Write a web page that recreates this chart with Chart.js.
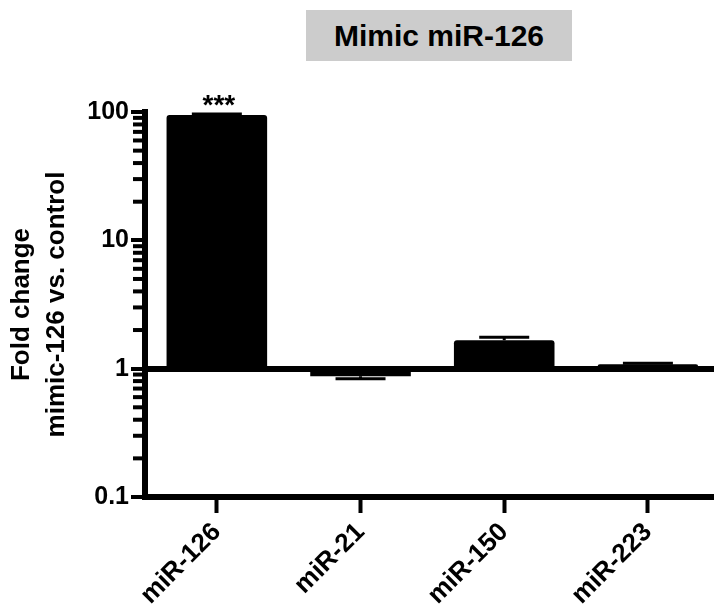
<!DOCTYPE html>
<html>
<head>
<meta charset="utf-8">
<script src="https://cdn.jsdelivr.net/npm/chart.js@4"></script>
<style>
  body { margin: 0; background: #fff; }
  #wrap { position: relative; width: 714px; height: 614px; }
  #title {
    position: absolute; left: 306px; top: 10px; width: 266px; height: 51px;
    background: #cccccc; color: #000;
    font: bold 30px "Liberation Sans", Arial, sans-serif;
    display: flex; align-items: center; justify-content: center;
  }
</style>
</head>
<body>
<div id="wrap">
  <div id="title">Mimic miR-126</div>
  <canvas id="chart" width="714" height="614"></canvas>
</div>
<script>
// data
const categories = ["miR-126", "miR-21", "miR-150", "miR-223"];
const foldChange = [94.8, 0.874, 1.668, 1.084];
const errorEnd = [96.4, 0.833, 1.76, 1.10];
const marks = ["***", "", "", ""];
const yTicks = [0.1, 1, 10, 100];
const minorSteps = [2, 3, 4, 5, 6, 7, 8, 9];
const baseline = 1;

const FONT = "'Liberation Sans', Arial, sans-serif";

// error bars, significance stars and the minor log ticks
const extras = {
  id: "extras",
  afterDatasetsDraw(chart) {
    const ctx = chart.ctx;
    const meta = chart.getDatasetMeta(0);
    const y = chart.scales.y;
    const left = chart.chartArea.left;
    ctx.save();
    ctx.strokeStyle = "#000";
    ctx.lineWidth = 3;
    meta.data.forEach((bar, i) => {
      const yEnd = y.getPixelForValue(foldChange[i]);
      const yErr = y.getPixelForValue(errorEnd[i]);
      ctx.beginPath();
      ctx.moveTo(bar.x, yEnd);
      ctx.lineTo(bar.x, yErr);
      ctx.moveTo(bar.x - 25, yErr);
      ctx.lineTo(bar.x + 25, yErr);
      ctx.stroke();
      if (marks[i]) {
        ctx.fillStyle = "#000";
        ctx.font = "bold 28px " + FONT;
        ctx.textAlign = "center";
        ctx.textBaseline = "alphabetic";
        ctx.fillText(marks[i], bar.x + 2, yErr);
      }
    });
    // minor ticks 2..9 inside every decade
    ctx.lineWidth = 4;
    yTicks.slice(0, -1).forEach(d => {
      minorSteps.forEach(k => {
        const py = y.getPixelForValue(d * k);
        ctx.beginPath();
        ctx.moveTo(left - 12, py);
        ctx.lineTo(left, py);
        ctx.stroke();
      });
    });
    ctx.restore();
  }
};

new Chart(document.getElementById("chart"), {
  type: "bar",
  data: {
    datasets: [{
      data: categories.map((c, i) => ({ x: i, y: [baseline, foldChange[i]] })),
      backgroundColor: "#000",
      borderColor: "#000",
      borderWidth: 0,
      borderRadius: 3,
      borderSkipped: "start",
      categoryPercentage: 1,
      barPercentage: 0.7
    }]
  },
  options: {
    responsive: false,
    animation: false,
    devicePixelRatio: 1,
    layout: { padding: { top: 112, right: 0, bottom: 0, left: 0 } },
    plugins: { legend: { display: false }, tooltip: { enabled: false } },
    scales: {
      x: {
        type: "linear",
        offset: false,
        min: -0.5,
        max: 3.46,
        afterBuildTicks: s => { s.ticks = categories.map((c, i) => ({ value: i })); },
        afterFit: s => { s.height = 117; s.paddingLeft = 0; s.paddingRight = 0; },
        ticks: {
          autoSkip: false,
          minRotation: 45,
          maxRotation: 45,
          padding: 4,
          color: "#000",
          font: { family: FONT, size: 26, weight: "bold" },
          callback: v => categories[v]
        },
        grid: { offset: false, drawOnChartArea: false, tickLength: 16, tickWidth: 4, tickColor: "#000" },
        border: { color: "#000", width: 6 }
      },
      y: {
        type: "logarithmic",
        min: 0.1,
        max: 100,
        afterBuildTicks: s => { s.ticks = yTicks.map(v => ({ value: v, major: true })); },
        afterFit: s => { s.width = 145; },
        ticks: {
          autoSkip: false,
          padding: 2,
          color: "#000",
          font: { family: FONT, size: 25, weight: "bold" },
          callback: v => String(v)
        },
        grid: {
          color: c => (c.tick && c.tick.value === baseline ? "#000" : "rgba(0,0,0,0)"),
          lineWidth: c => (c.tick && c.tick.value === baseline ? 6 : 0),
          tickLength: 14,
          tickWidth: 4,
          tickColor: "#000"
        },
        border: { color: "#000", width: 6 },
        title: {
          display: true,
          text: ["Fold change", "mimic-126 vs. control"],
          color: "#000",
          font: { family: FONT, size: 26, weight: "bold", lineHeight: 1.35 },
          padding: { top: 4, bottom: 0 }
        }
      }
    }
  },
  plugins: [extras]
});
</script>
</body>
</html>
